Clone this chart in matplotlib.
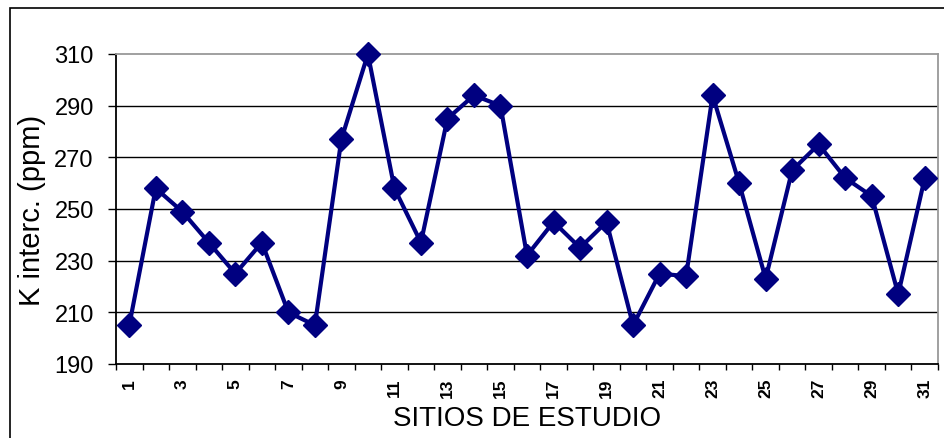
import matplotlib
matplotlib.use("Agg")
import matplotlib.pyplot as plt
from matplotlib.patches import Rectangle
from matplotlib.ticker import FixedLocator, FixedFormatter, NullFormatter

plt.rcParams['font.family'] = ['Liberation Sans', 'DejaVu Sans']

# data
sitios = list(range(1, 32))
k_interc = [205, 258, 249, 237, 225, 237, 210, 205, 277, 310,
            258, 237, 285, 294, 290, 232, 245, 235, 245, 205,
            225, 224, 294, 260, 223, 265, 275, 262, 255, 217, 262]
y_ticks = [190, 210, 230, 250, 270, 290, 310]
x_labels = [str(s) for s in sitios if s % 2 == 1]

fig = plt.figure(figsize=(9.45, 4.39), dpi=100)
ax = fig.add_axes([116 / 945, 1 - 365 / 439, 822 / 945, 310 / 439])

# outer frame of the chart (runs off the right and bottom of the image)
fig.patches.append(Rectangle((10 / 945, -0.2), 1.2, 1.2 - 9 / 439,
                             transform=fig.transFigure, fill=False,
                             edgecolor='black', lw=1.2))

ax.plot(sitios, k_interc, color='#000080', lw=3, marker='D',
        markersize=12, markeredgecolor='#000080', zorder=3, clip_on=False)

ax.set_xlim(0.5, 31.5)
ax.set_ylim(190, 310)

# y axis
ax.set_yticks(y_ticks)
ax.tick_params(axis='y', direction='out', length=6, width=1, pad=10,
               labelsize=17, colors='black')
for y in y_ticks[1:-1]:
    ax.axhline(y, color='black', lw=1, zorder=1)

# x axis: tick marks between categories, labels on odd categories
ax.xaxis.set_major_locator(FixedLocator([s - 0.5 for s in sitios] + [31.5]))
ax.xaxis.set_major_formatter(NullFormatter())
ax.tick_params(axis='x', which='major', direction='out', length=4, width=1)
ax.xaxis.set_minor_locator(FixedLocator([s for s in sitios if s % 2 == 1]))
ax.xaxis.set_minor_formatter(FixedFormatter(x_labels))
ax.tick_params(axis='x', which='minor', length=0, pad=10, labelsize=12.5,
               labelrotation=90)
for t in ax.xaxis.get_minor_ticks():
    t.label1.set_fontweight('bold')

ax.spines['left'].set_color('black')
ax.spines['bottom'].set_color('black')
ax.spines['top'].set_color('#999999')
ax.spines['right'].set_color('#999999')
for sp in ax.spines.values():
    sp.set_linewidth(1.3)

ax.set_ylabel('K interc. (ppm)', fontsize=21)
ax.yaxis.label.set_va('center')
ax.yaxis.set_label_coords(-0.102, 0.5)
ax.set_xlabel('SITIOS DE ESTUDIO', fontsize=20)
ax.xaxis.label.set_va('center')
ax.xaxis.set_label_coords(0.5, -0.175)

fig.savefig('out.png', dpi=100)
